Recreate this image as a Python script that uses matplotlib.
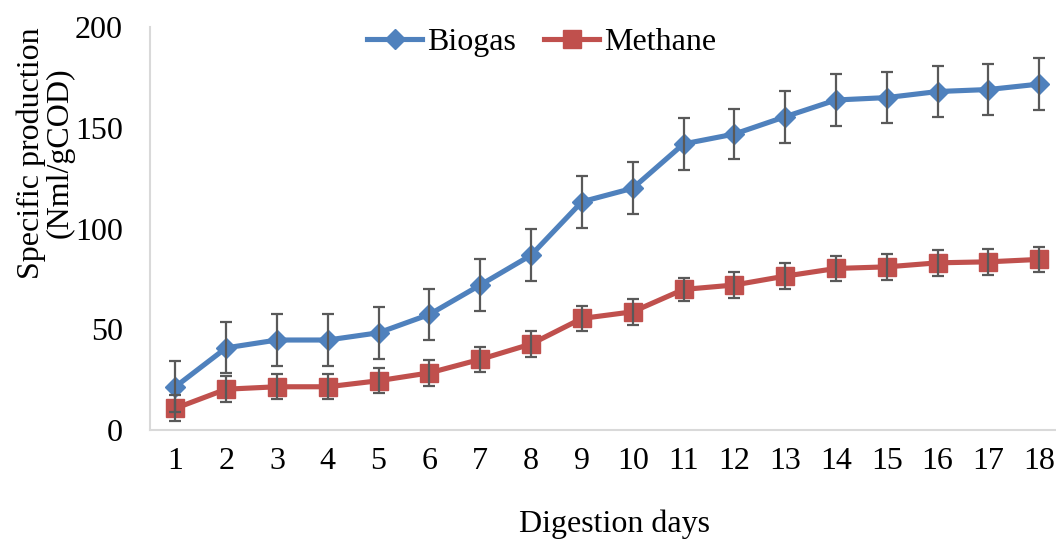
import matplotlib.pyplot as plt

days = list(range(1, 19))
biogas = [21.5, 40.8, 44.7, 44.7, 48.3, 57.4, 72.0, 86.8, 113.3, 120.0,
          142.0, 146.9, 155.5, 163.8, 165.0, 168.0, 169.0, 171.7]
biogas_err = [12.7, 12.7, 12.8, 12.8, 12.8, 12.5, 12.8, 12.8, 12.8, 12.8,
              12.8, 12.6, 12.8, 12.8, 12.8, 12.8, 12.8, 12.8]
methane = [10.8, 20.3, 21.5, 21.5, 24.5, 28.4, 35.1, 42.7, 55.4, 58.7,
           69.8, 72.0, 76.4, 80.2, 81.0, 83.0, 83.5, 84.7]
methane_err = [6.5, 6.5, 6.3, 6.3, 6.3, 6.3, 6.3, 6.3, 6.4, 6.6,
               5.8, 6.5, 6.3, 6.3, 6.3, 6.3, 6.3, 6.3]

plt.rcParams['font.family'] = ['Liberation Serif', 'DejaVu Serif']

fig = plt.figure(figsize=(10.56, 5.41), dpi=100)
ax = fig.add_axes([0.142, 0.205, 0.858, 0.745])

blue = '#4F81BD'
red = '#C0504D'
ax.plot(days, biogas, color=blue, lw=3.7, marker='D', ms=10, label='Biogas', zorder=3)
ax.plot(days, methane, color=red, lw=3.7, marker='s', ms=13, label='Methane', zorder=3)
ax.errorbar(days, biogas, yerr=biogas_err, fmt='none', ecolor='#595959',
            elinewidth=1.6, capsize=4.5, capthick=1.6, zorder=4)
ax.errorbar(days, methane, yerr=methane_err, fmt='none', ecolor='#595959',
            elinewidth=1.6, capsize=4.5, capthick=1.6, zorder=4)

ax.set_xlim(0.5, 18.33)
ax.set_ylim(0, 200)
ax.set_xticks(days)
ax.set_yticks([0, 50, 100, 150, 200])
ax.tick_params(length=0, labelsize=23)
ax.tick_params(axis='x', pad=12)
ax.tick_params(axis='y', pad=19.5)
for s in ['top', 'right']:
    ax.spines[s].set_visible(False)
for s in ['left', 'bottom']:
    ax.spines[s].set_color('#D9D9D9')
    ax.spines[s].set_linewidth(1.5)

fig.text(0.043, 0.717, 'Specific production\n(Nml/gCOD)', rotation=90,
         ha='center', va='center', fontsize=23, linespacing=1.0)
fig.text(0.582, 0.016, 'Digestion days', ha='center', va='baseline', fontsize=23)

ax.legend(loc='center', bbox_to_anchor=(0.513, 0.922), bbox_transform=fig.transFigure,
          ncol=2, frameon=False, fontsize=23, handlelength=1.72, handletextpad=0.15,
          columnspacing=0.9, borderaxespad=0)

fig.savefig('out.png', dpi=100)
